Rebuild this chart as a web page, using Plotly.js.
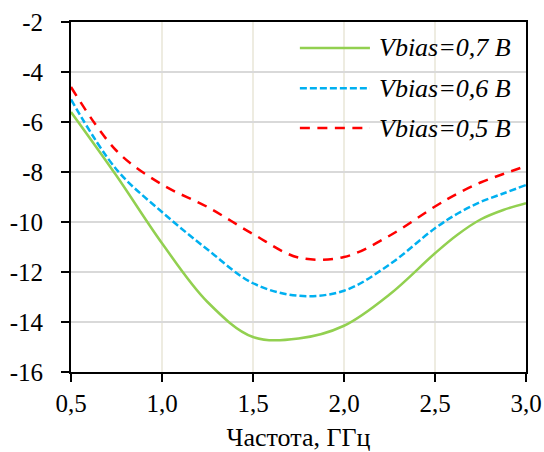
<!DOCTYPE html>
<html>
<head>
<meta charset="utf-8">
<script src="https://cdn.plot.ly/plotly-3.0.1.min.js"></script>
<style>html,body{margin:0;padding:0;background:#fff;}#chart{width:544px;height:452px;}</style>
</head>
<body>
<div id="chart"></div>
<script>
// Frequency, GHz
const freq = [0.5, 0.75, 1.0, 1.25, 1.5, 1.75, 2.0, 2.25, 2.5, 2.625, 2.75, 2.875, 3.0];
// Series values (dB)
const v07 = [-5.6, -8.15, -10.85, -13.2, -14.6, -14.66, -14.15, -12.9, -11.25, -10.5, -9.9, -9.52, -9.25];
const v06 = [-5.1, -7.9, -9.6, -11.1, -12.45, -12.95, -12.75, -11.7, -10.25, -9.66, -9.2, -8.86, -8.52];
const v05 = [-4.6, -7.15, -8.5, -9.4, -10.48, -11.42, -11.4, -10.55, -9.38, -8.86, -8.42, -8.08, -7.76];
const seriesNames = ['Vbias=0,7 B', 'Vbias=0,6 B', 'Vbias=0,5 B'];
const xTickVals = [0.5, 1.0, 1.5, 2.0, 2.5, 3.0];
const xTickText = ['0,5', '1,0', '1,5', '2,0', '2,5', '3,0'];
const yTickVals = [-16, -14, -12, -10, -8, -6, -4, -2];
const yTickText = ['-16', '-14', '-12', '-10', '-8', '-6', '-4', '-2'];
const xTitle = 'Частота, ГГц';

const colors = ['#92d050', '#00b0f0', '#ff0000'];
const dashes = ['solid', '7px,3px', '10px,7.5px'];
const allY = [v07, v06, v05];
const FAMILY = 'Liberation Serif';

const traces = allY.map((y, i) => ({
  x: freq, y: y, type: 'scatter', mode: 'lines', name: seriesNames[i],
  line: {color: colors[i], width: 2.5, dash: dashes[i], shape: 'spline', smoothing: 1},
  showlegend: false, hoverinfo: 'skip'
}));

// custom legend (sample lines + labels) in paper coordinates
const legY = [0.926, 0.811, 0.697];
const shapes = [];
const annotations = [];
legY.forEach((yy, i) => {
  shapes.push({type: 'line', xref: 'paper', yref: 'paper', x0: 0.503, x1: 0.657, y0: yy, y1: yy,
    line: {color: colors[i], width: 2.5, dash: dashes[i]}});
  annotations.push({xref: 'paper', yref: 'paper', x: 0.673, y: yy, xanchor: 'left', yanchor: 'middle',
    text: '<i>' + seriesNames[i] + '</i>', showarrow: false,
    font: {family: FAMILY, size: 26, color: '#000'}});
});

const tickFont = {family: FAMILY, size: 25, color: '#000'};
const titleFont = {family: FAMILY, size: 26, color: '#000'};
const layout = {
  width: 544, height: 452,
  margin: {l: 71, r: 18, t: 22, b: 80},
  paper_bgcolor: '#fff', plot_bgcolor: '#fff',
  font: tickFont,
  showlegend: false,
  xaxis: {
    range: [0.5, 3.0], tickvals: xTickVals, ticktext: xTickText,
    showgrid: true, gridcolor: '#eeece1', gridwidth: 2,
    showline: true, linecolor: '#000', linewidth: 2, mirror: true,
    ticks: 'outside', ticklen: 8, tickwidth: 2, tickcolor: '#000',
    tickfont: tickFont, zeroline: false,
    title: {text: xTitle, font: titleFont, standoff: 12}
  },
  yaxis: {
    range: [-16, -2], tickvals: yTickVals, ticktext: yTickText,
    showgrid: true, gridcolor: '#d9d9d9', gridwidth: 2,
    showline: true, linecolor: '#000', linewidth: 2, mirror: true,
    ticks: 'outside', ticklen: 8, tickwidth: 2, tickcolor: '#000',
    tickfont: tickFont, zeroline: false, ticklabelstandoff: 13
  },
  shapes: shapes,
  annotations: annotations
};
Plotly.newPlot('chart', traces, layout, {staticPlot: true, displayModeBar: false});
</script>
</body>
</html>
